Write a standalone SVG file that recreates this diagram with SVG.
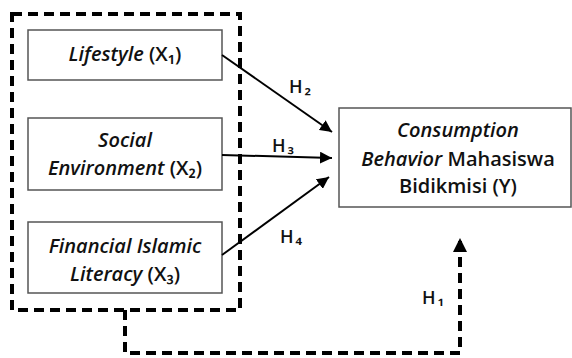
<svg xmlns="http://www.w3.org/2000/svg" width="572" height="358" viewBox="0 0 572 358">
<defs>
<style>
.box{fill:#fff;stroke:#555;stroke-width:1.5}
.t{font-family:"Open Sans","DejaVu Sans",sans-serif;font-size:20px;font-weight:600;fill:#111;text-anchor:middle}
.h{font-family:"Open Sans","DejaVu Sans",sans-serif;font-size:18px;font-weight:600;fill:#111;letter-spacing:2px}
.dash{fill:none;stroke:#000;stroke-width:4;stroke-dasharray:10 6}
.ln{fill:none;stroke:#000;stroke-width:2}
</style>
<marker id="ah" viewBox="0 0 10 10" refX="10" refY="5" markerWidth="6" markerHeight="6" markerUnits="strokeWidth" orient="auto">
<path d="M0,0 L10,5 L0,10 Z" fill="#000"/>
</marker>
<marker id="ahd" viewBox="0 0 10 10" refX="10" refY="5" markerWidth="3.5" markerHeight="3.5" markerUnits="strokeWidth" orient="auto">
<path d="M0,0 L10,5 L0,10 Z" fill="#000"/>
</marker>
</defs>
<g id="group-x">
<rect class="dash" x="12" y="14" width="228" height="296"/>
</g>
<g id="x1">
<rect class="box" x="28" y="30" width="194" height="50"/>
<text class="t" x="125" y="61"><tspan font-style="italic">Lifestyle</tspan> (X₁)</text>
</g>
<g id="x2">
<rect class="box" x="28" y="118" width="194" height="72"/>
<text class="t" x="125" y="147" font-style="italic">Social</text>
<text class="t" x="125" y="175"><tspan font-style="italic">Environment</tspan> (X₂)</text>
</g>
<g id="x3">
<rect class="box" x="28" y="222" width="194" height="71"/>
<text class="t" x="125" y="253" font-style="italic">Financial Islamic</text>
<text class="t" x="125" y="281"><tspan font-style="italic">Literacy</tspan> (X₃)</text>
</g>
<g id="y">
<rect class="box" x="339" y="108" width="232" height="99"/>
<text class="t" x="458" y="137" font-style="italic">Consumption</text>
<text class="t" x="458" y="166"><tspan font-style="italic">Behavior</tspan> Mahasiswa</text>
<text class="t" x="458" y="193">Bidikmisi (Y)</text>
</g>
<g id="connectors">
<line class="ln" x1="222" y1="55" x2="332" y2="132" marker-end="url(#ah)"/>
<line class="ln" x1="222" y1="155" x2="332" y2="158" marker-end="url(#ah)"/>
<line class="ln" x1="222" y1="255" x2="329" y2="177" marker-end="url(#ah)"/>
<path class="dash" d="M125,310 V353 H460 V238" marker-end="url(#ahd)"/>
<text class="h" x="289" y="93">H₂</text>
<text class="h" x="272" y="152">H₃</text>
<text class="h" x="280" y="243">H₄</text>
<text class="h" x="422" y="304">H₁</text>
</g>
</svg>
